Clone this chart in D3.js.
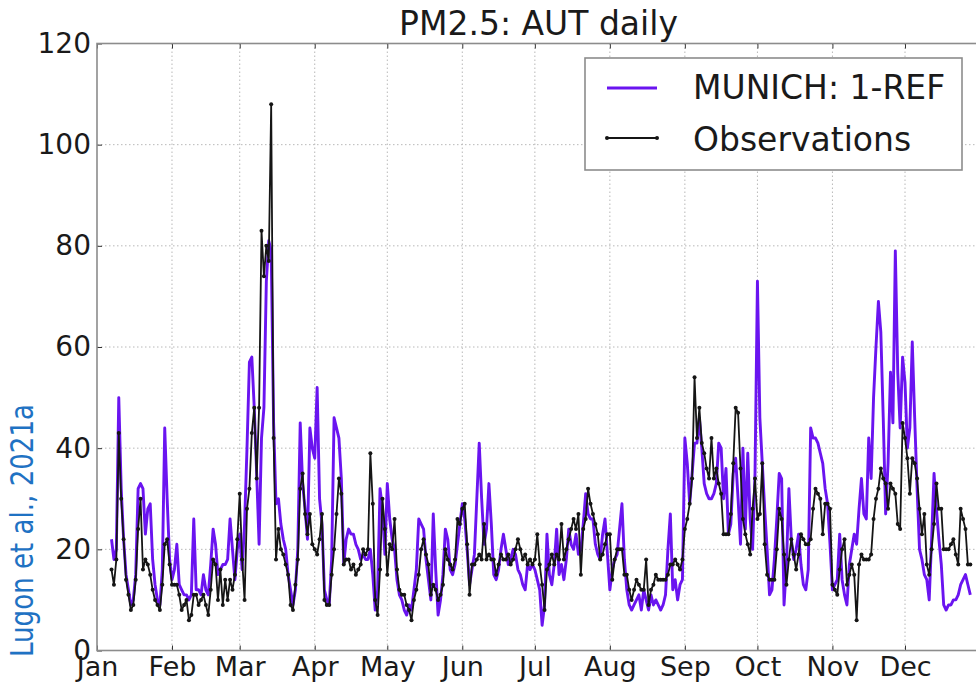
<!DOCTYPE html>
<html>
<head>
<meta charset="utf-8">
<script src="https://cdn.jsdelivr.net/npm/d3@7"></script>
<style>
  body { margin: 0; background: #ffffff; }
  text { font-family: "DejaVu Sans", sans-serif; fill: #1a1a1a; }
</style>
</head>
<body>
<svg id="chart" width="976" height="685"></svg>
<script>
// Daily PM2.5 at the AUT station: first day of the series, then one value per day
const startDate = "2014-01-07";

const obsValues = [
  16, 13, 18, 43, 30, 22, 14, 11, 8, 9,
  14, 24, 30, 16, 18, 17, 15, 12, 10, 9,
  8, 13, 21, 22, 17, 13, 13, 13, 11, 8,
  9, 10, 6, 7, 11, 11, 9, 10, 11, 9,
  7, 12, 18, 17, 10, 16, 9, 14, 10, 14,
  12, 15, 22, 31, 18, 10, 28, 32, 43, 48,
  34, 48, 83, 74, 80, 77, 108, 42, 18, 24,
  20, 19, 17, 15, 9, 8, 13, 18, 32, 35,
  27, 23, 27, 21, 20, 19, 22, 27, 10, 9,
  9, 15, 20, 27, 34, 31, 17, 18, 18, 16,
  17, 15, 16, 17, 20, 19, 20, 39, 29, 10,
  7, 16, 30, 24, 15, 21, 20, 26, 16, 12,
  11, 11, 9, 8, 6, 10, 12, 15, 20, 22,
  19, 17, 11, 13, 12, 10, 11, 13, 20, 18,
  17, 16, 18, 26, 25, 28, 29, 21, 11, 17,
  17, 18, 19, 18, 25, 18, 19, 18, 18, 15,
  17, 19, 18, 18, 19, 17, 18, 20, 22, 20,
  18, 19, 17, 18, 17, 18, 23, 17, 13, 8,
  16, 17, 19, 17, 19, 18, 25, 18, 20, 22,
  24, 26, 24, 27, 15, 24, 26, 32, 29, 27,
  25, 23, 18, 19, 21, 23, 23, 14, 18, 20,
  20, 20, 15, 15, 12, 10, 12, 14, 13, 12,
  12, 18, 9, 12, 13, 15, 14, 14, 14, 14,
  15, 17, 17, 18, 17, 16, 18, 24, 26, 29,
  34, 54, 42, 48, 41, 39, 36, 34, 42, 34,
  36, 33, 31, 23, 23, 23, 27, 37, 48, 47,
  36, 26, 23, 21, 19, 28, 34, 26, 27, 37,
  21, 15, 14, 14, 14, 20, 28, 26, 19, 13,
  18, 22, 19, 16, 19, 23, 22, 21, 21, 22,
  28, 32, 31, 30, 23, 29, 29, 28, 13, 12,
  11, 16, 20, 22, 13, 15, 17, 15, 6, 17,
  19, 18, 18, 18, 19, 26, 30, 32, 36, 34,
  33, 28, 33, 32, 31, 25, 24, 45, 42, 38,
  31, 38, 37, 34, 28, 23, 27, 17, 15, 20,
  25, 33, 28, 28, 20, 20, 20, 21, 22, 19,
  17, 28, 26, 24, 17, 17
];

const modelValues = [
  22, 18, 20, 50, 32, 22, 15, 12, 9, 10,
  15, 32, 33, 32, 23, 28, 29, 18, 13, 10,
  9, 16, 44, 30, 18, 14, 16, 21, 13, 12,
  11, 11, 10, 11, 26, 12, 12, 11, 15, 12,
  11, 17, 24, 21, 15, 16, 17, 17, 18, 26,
  20, 14, 20, 23, 16, 25, 40, 57, 58, 48,
  35, 21, 42, 48, 73, 81, 79, 45, 29, 30,
  25, 22, 20, 15, 12, 9, 12, 20, 45, 33,
  28, 22, 44, 40, 38, 52, 30, 25, 12, 10,
  9, 18, 46, 44, 42, 34, 17, 22, 24, 23,
  23, 21, 20, 18, 19, 18, 18, 20, 15, 8,
  12, 32, 28, 19, 33, 26, 22, 20, 14, 11,
  10, 8, 7, 9, 8, 12, 16, 26, 25, 24,
  18, 14, 10, 27, 16, 7, 10, 15, 24, 22,
  16, 15, 17, 21, 25, 29, 26, 20, 13, 16,
  19, 30, 41, 30, 21, 24, 33, 25, 15, 14,
  16, 20, 23, 20, 17, 18, 20, 19, 16, 15,
  13, 12, 17, 16, 17, 16, 14, 12, 5, 9,
  23, 15, 13, 17, 24, 15, 17, 14, 18, 24,
  21, 20, 23, 19, 20, 25, 31, 27, 26, 26,
  21, 19, 18, 23, 26, 19, 12, 16, 18, 19,
  24, 29, 18, 12, 9, 8, 9, 10, 11, 8,
  12, 10, 8, 11, 9, 10, 9, 8, 9, 11,
  20, 27, 12, 14, 10, 13, 14, 42, 37, 29,
  35, 41, 41, 46, 40, 33, 31, 30, 30, 31,
  33, 41, 40, 30, 36, 23, 25, 35, 38, 30,
  21, 40, 24, 39, 26, 20, 35, 73, 46, 37,
  28, 20, 11, 12, 18, 26, 35, 34, 9, 17,
  32, 22, 18, 20, 23, 17, 13, 12, 16, 44,
  42, 42, 41, 39, 37, 32, 29, 21, 12, 13,
  14, 23, 14, 11, 9, 17, 20, 23, 21, 28,
  34, 27, 26, 42, 34, 50, 60, 69, 63, 46,
  27, 37, 55, 45, 79, 55, 44, 58, 53, 40,
  44, 61, 46, 32, 20, 18, 15, 14, 10, 22,
  35, 28, 22, 17, 9, 8, 9, 9, 10, 10,
  11, 13, 14, 15, 13, 11
];

const monthLabels = ["Jan", "Feb", "Mar", "Apr", "May", "Jun",
                     "Jul", "Aug", "Sep", "Oct", "Nov", "Dec"];
const yTicks = [0, 20, 40, 60, 80, 100, 120];
const seriesNames = ["MUNICH: 1-REF", "Observations"];
const titleText = "PM2.5: AUT daily";
const sourceNote = "Lugon et al., 2021a";

// ---- layout ----
const svg = d3.select("#chart");
const plot = { left: 97, right: 980, top: 43.5, bottom: 650.5 };
const modelColor = "#6a14f0";
const obsColor = "#151515";
const frameColor = "#8c8c8c";

const x0 = d3.utcParse("%Y-%m-%d")(startDate);
const yearStart = d3.utcYear.floor(x0);
const yearEnd = d3.utcYear.offset(yearStart, 1);

const x = d3.scaleUtc().domain([yearStart, yearEnd]).range([plot.left, plot.right]);
const y = d3.scaleLinear().domain([0, 120]).range([plot.bottom, plot.top]);

const days = obsValues.map((_, i) => d3.utcDay.offset(x0, i));
const obs = days.map((d, i) => ({ date: d, v: obsValues[i] }));
const model = days.map((d, i) => ({ date: d, v: modelValues[i] }));
const monthTicks = d3.utcMonth.range(yearStart, yearEnd);

svg.append("defs").append("clipPath").attr("id", "plotClip")
  .append("rect")
  .attr("x", plot.left).attr("y", plot.top)
  .attr("width", plot.right - plot.left).attr("height", plot.bottom - plot.top);

// ---- dotted grid ----
const grid = svg.append("g").attr("stroke", "#b8b8b8").attr("stroke-width", 1)
  .attr("stroke-dasharray", "1.5,2.5");
grid.selectAll("line.h").data(yTicks.filter(v => v > 0 && v < 120)).join("line")
  .attr("x1", plot.left).attr("x2", plot.right)
  .attr("y1", d => y(d)).attr("y2", d => y(d));
grid.selectAll("line.v").data(monthTicks.slice(1)).join("line")
  .attr("y1", plot.top).attr("y2", plot.bottom)
  .attr("x1", d => x(d)).attr("x2", d => x(d));

// ---- series ----
const line = d3.line().x(d => x(d.date)).y(d => y(d.v));
const series = svg.append("g").attr("clip-path", "url(#plotClip)");

series.append("path").datum(model)
  .attr("fill", "none").attr("stroke", modelColor)
  .attr("stroke-width", 2.9).attr("stroke-linejoin", "round")
  .attr("d", line);

series.append("path").datum(obs)
  .attr("fill", "none").attr("stroke", obsColor)
  .attr("stroke-width", 1.8).attr("stroke-linejoin", "round")
  .attr("d", line);

series.selectAll("circle.obs").data(obs).join("circle")
  .attr("class", "obs")
  .attr("cx", d => x(d.date)).attr("cy", d => y(d.v))
  .attr("r", 2).attr("fill", obsColor);

// ---- axes (inward ticks, classic style) ----
const yAxis = d3.axisLeft(y).tickValues(yTicks).tickSizeInner(-5).tickSizeOuter(0).tickPadding(6);
const gy = svg.append("g").attr("transform", `translate(${plot.left},0)`).call(yAxis);
gy.select(".domain").remove();
gy.selectAll(".tick line").attr("stroke", "#333");
gy.selectAll(".tick text").attr("font-size", 28).attr("fill", "#1a1a1a")
  .attr("font-family", "DejaVu Sans");

const xAxis = d3.axisBottom(x).tickValues(monthTicks)
  .tickFormat((d, i) => monthLabels[i])
  .tickSizeInner(-5).tickSizeOuter(0).tickPadding(6);
const gx = svg.append("g").attr("transform", `translate(0,${plot.bottom})`).call(xAxis);
gx.select(".domain").remove();
gx.selectAll(".tick line").attr("stroke", "#333");
gx.selectAll(".tick text").attr("font-size", 27).attr("fill", "#1a1a1a")
  .attr("font-family", "DejaVu Sans");

const xTop = d3.axisTop(x).tickValues(monthTicks).tickFormat("").tickSizeInner(-5).tickSizeOuter(0);
const gt = svg.append("g").attr("transform", `translate(0,${plot.top})`).call(xTop);
gt.select(".domain").remove();
gt.selectAll(".tick line").attr("stroke", "#333");

// ---- frame ----
svg.append("rect")
  .attr("x", plot.left).attr("y", plot.top)
  .attr("width", plot.right - plot.left).attr("height", plot.bottom - plot.top)
  .attr("fill", "none").attr("stroke", frameColor).attr("stroke-width", 1.6);

// ---- title ----
svg.append("text")
  .attr("x", (plot.left + plot.right) / 2).attr("y", 35)
  .attr("text-anchor", "middle").attr("font-size", 33)
  .text(titleText);

// ---- legend ----
const lg = svg.append("g");
lg.append("rect").attr("x", 585).attr("y", 58).attr("width", 377).attr("height", 112)
  .attr("fill", "#ffffff").attr("stroke", frameColor).attr("stroke-width", 1.6);
lg.append("line").attr("x1", 607).attr("x2", 657).attr("y1", 88).attr("y2", 88)
  .attr("stroke", modelColor).attr("stroke-width", 2.9);
lg.append("line").attr("x1", 607).attr("x2", 657).attr("y1", 138).attr("y2", 138)
  .attr("stroke", obsColor).attr("stroke-width", 1.8);
lg.selectAll("circle").data([607, 657]).join("circle")
  .attr("cx", d => d).attr("cy", 138).attr("r", 2).attr("fill", obsColor);
lg.selectAll("text").data(seriesNames).join("text")
  .attr("x", 693).attr("y", (d, i) => 99 + i * 52)
  .attr("font-size", 33).text(d => d);

// ---- source note ----
svg.append("text")
  .attr("transform", "translate(33,657) rotate(-90)")
  .attr("font-family", "Lato, 'Open Sans', sans-serif")
  .attr("font-size", 32)
  .attr("textLength", 253).attr("lengthAdjust", "spacingAndGlyphs")
  .style("fill", "#1f72c3")
  .text(sourceNote);
</script>
</body>
</html>
